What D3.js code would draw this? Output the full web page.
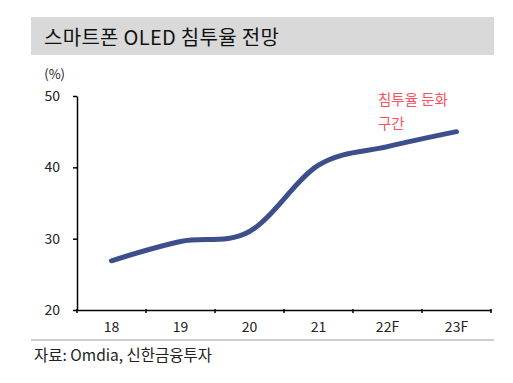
<!DOCTYPE html>
<html>
<head>
<meta charset="utf-8">
<script src="https://cdn.jsdelivr.net/npm/d3@7"></script>
<style>
body { margin: 0; background: #fff; }
svg text { font-family: "Noto Sans CJK KR", "Noto Sans", sans-serif; }
</style>
</head>
<body>
<div id="graph"></div>
<script>
// chart data
var years = ["18", "19", "20", "21", "22F", "23F"];
var penetration = [26.9, 29.6, 31.0, 40.3, 42.9, 45.0];
var yTicks = [20, 30, 40, 50];
var titleText = "스마트폰 OLED 침투율 전망";
var noteLines = ["침투율 둔화", "구간"];
var sourceText = "자료: Omdia, 신한금융투자";

var svgWidth = 513, svgHeight = 383;
var margin = {top: 96, right: 22, bottom: 73, left: 77};
var width = svgWidth - margin.left - margin.right;
var height = svgHeight - margin.top - margin.bottom;

var svg = d3.select("#graph").append("svg")
	.attr("width", svgWidth)
	.attr("height", svgHeight);

// title bar
svg.append("rect")
	.attr("x", 31).attr("y", 17)
	.attr("width", 463).attr("height", 38)
	.style("fill", "#d9d9d9");
svg.append("text")
	.attr("x", 44).attr("y", 45)
	.style("font-size", "20px")
	.style("letter-spacing", "0.3px")
	.style("fill", "#111")
	.text(titleText);

var g = svg.append("g")
	.attr("transform", "translate(" + margin.left + "," + margin.top + ")");

var xScale = d3.scaleBand().domain(years).range([0, width]);
var yScale = d3.scaleLinear().domain([20, 50]).range([height, 0]);

// x axis
var xAxis = g.append("g")
	.attr("transform", "translate(0," + height + ")")
	.call(d3.axisBottom(xScale).tickSize(0).tickPadding(12));
xAxis.select(".domain").style("stroke", "#000").style("stroke-width", 1.5);
xAxis.selectAll("text").style("font-size", "14px").style("fill", "#222");
// band edge ticks
g.append("g").selectAll("line")
	.data(years.concat(["end"]))
	.enter().append("line")
	.attr("x1", function(d, i) { return i * xScale.bandwidth(); })
	.attr("x2", function(d, i) { return i * xScale.bandwidth(); })
	.attr("y1", height - 1).attr("y2", height + 3)
	.style("stroke", "#000").style("stroke-width", 1.5);

// y axis
var yAxis = g.append("g")
	.call(d3.axisLeft(yScale).tickValues(yTicks).tickSize(4).tickPadding(13).tickSizeOuter(0));
yAxis.select(".domain").style("stroke", "#000").style("stroke-width", 1.5);
yAxis.selectAll(".tick line").style("stroke", "#000").style("stroke-width", 1.5);
yAxis.selectAll("text").style("font-size", "14px").style("fill", "#222");

g.append("text")
	.attr("x", -12).attr("y", -17)
	.attr("text-anchor", "end")
	.style("font-size", "13px")
	.style("fill", "#222")
	.text("(%)");

// line
var lineGenerator = d3.line()
	.x(function(d, i) { return xScale(years[i]) + xScale.bandwidth() / 2; })
	.y(function(d) { return yScale(d); })
	.curve(d3.curveCardinal.tension(0));

g.append("path")
	.attr("d", lineGenerator(penetration))
	.style("fill", "none")
	.style("stroke", "#3c4f8c")
	.style("stroke-width", 5)
	.style("stroke-linecap", "round");

// annotation
g.append("g").selectAll("text")
	.data(noteLines)
	.enter().append("text")
	.attr("x", 301)
	.attr("y", function(d, i) { return 9 + i * 24; })
	.style("font-size", "14.5px")
	.style("fill", "#ff4f5a")
	.text(function(d) { return d; });

// source
svg.append("line")
	.attr("x1", 31).attr("x2", 494)
	.attr("y1", 340).attr("y2", 340)
	.style("stroke", "#bfbfbf").style("stroke-width", 1.5);
svg.append("text")
	.attr("x", 34).attr("y", 361)
	.style("font-size", "15.5px")
	.style("fill", "#222")
	.text(sourceText);
</script>
</body>
</html>
